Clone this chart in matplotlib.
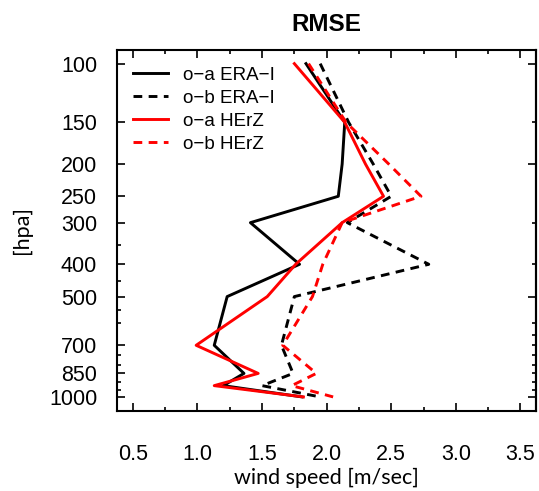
import matplotlib
matplotlib.use("Agg")
import matplotlib.pyplot as plt
from matplotlib.ticker import FixedLocator, NullFormatter, FixedFormatter

# Pressure levels (hPa) and wind-speed RMSE (m/s) per experiment
levels = [100, 150, 200, 250, 300, 400, 500, 700, 850, 925, 1000]
oa_era = [1.84, 2.14, 2.12, 2.09, 1.41, 1.79, 1.23, 1.13, 1.36, 1.20, 1.81]
ob_era = [1.95, 2.17, 2.36, 2.50, 2.16, 2.79, 1.75, 1.65, 1.74, 1.50, 1.95]
oa_herz = [1.75, 2.14, 2.30, 2.44, 2.12, 1.76, 1.54, 0.99, 1.47, 1.13, 1.82]
ob_herz = [1.86, 2.15, 2.48, 2.73, 2.12, 1.97, 1.89, 1.66, 1.92, 1.73, 2.05]

series_labels = ["o\u2212a ERA\u2212I", "o\u2212b ERA\u2212I", "o\u2212a HErZ", "o\u2212b HErZ"]
ytick_labels = ["100", "150", "200", "250", "300", "400", "500", "700", "850", "1000"]
xticks = [0.5, 1.0, 1.5, 2.0, 2.5, 3.0, 3.5]

plt.rcParams["font.family"] = ["Liberation Sans", "DejaVu Sans"]

fig = plt.figure(figsize=(5.39, 4.91), dpi=100)
ax = fig.add_axes([0.2165, 0.1635, 0.7779, 0.7347])

dash = (0, (3.0, 2.2))
ax.plot(oa_era, levels, color="black", lw=2.1, label=series_labels[0])
ax.plot(ob_era, levels, color="black", lw=2.1, linestyle=dash, label=series_labels[1])
ax.plot(oa_herz, levels, color="red", lw=2.1, label=series_labels[2])
ax.plot(ob_herz, levels, color="red", lw=2.1, linestyle=dash, label=series_labels[3])

ax.set_yscale("log")
ax.set_ylim(1100, 91)
ax.set_xlim(0.375, 3.62)

# Left axis: labelled pressure levels
yt = [float(v) for v in ytick_labels]
ax.yaxis.set_major_locator(FixedLocator(yt))
ax.yaxis.set_major_formatter(FixedFormatter(ytick_labels))
ax.yaxis.set_minor_locator(FixedLocator([350, 450, 550, 600, 750, 800, 900, 950]))
ax.yaxis.set_minor_formatter(NullFormatter())

ax.set_xticks(xticks)
ax.set_xticklabels([f"{v:.1f}" for v in xticks])
ax.xaxis.set_minor_locator(FixedLocator([v + 0.25 for v in xticks[:-1]] + [0.25]))

ax.tick_params(which="both", direction="in", top=True, right=False, width=1.2)
ax.tick_params(which="major", length=6)
ax.tick_params(which="minor", length=3)
ax.tick_params(axis="y", which="major", labelsize=15.5, pad=14)
ax.tick_params(axis="x", which="major", labelsize=15.5, pad=24)

# Right axis: plain log ticks
sec = ax.secondary_yaxis("right")
sec.set_yscale("log")
sec.yaxis.set_major_locator(FixedLocator([100, 200, 500, 1000]))
sec.yaxis.set_minor_locator(FixedLocator([150, 300, 400, 600, 650, 700, 750, 800, 850, 900, 950]))
sec.yaxis.set_major_formatter(NullFormatter())
sec.yaxis.set_minor_formatter(NullFormatter())
sec.tick_params(which="both", direction="in", width=1.2)
sec.tick_params(which="major", length=6)
sec.tick_params(which="minor", length=3)

for s in ax.spines.values():
    s.set_linewidth(1.5)
sec.spines["right"].set_linewidth(1.5)

ax.set_title("RMSE", fontsize=17.5, fontweight="bold", pad=14)
ax.set_xlabel("wind speed [m/sec]", fontsize=15.5, family=["Lato", "DejaVu Sans"], labelpad=2)
ax.set_ylabel("[hpa]", fontsize=15.5, family=["Lato", "DejaVu Sans"], labelpad=12)

ax.legend(loc="upper left", frameon=False, fontsize=13.5, handlelength=1.85,
          handletextpad=0.8, labelspacing=0.32, borderaxespad=0.0,
          bbox_to_anchor=(0.022, 0.975))

fig.savefig("out.png", dpi=100)
